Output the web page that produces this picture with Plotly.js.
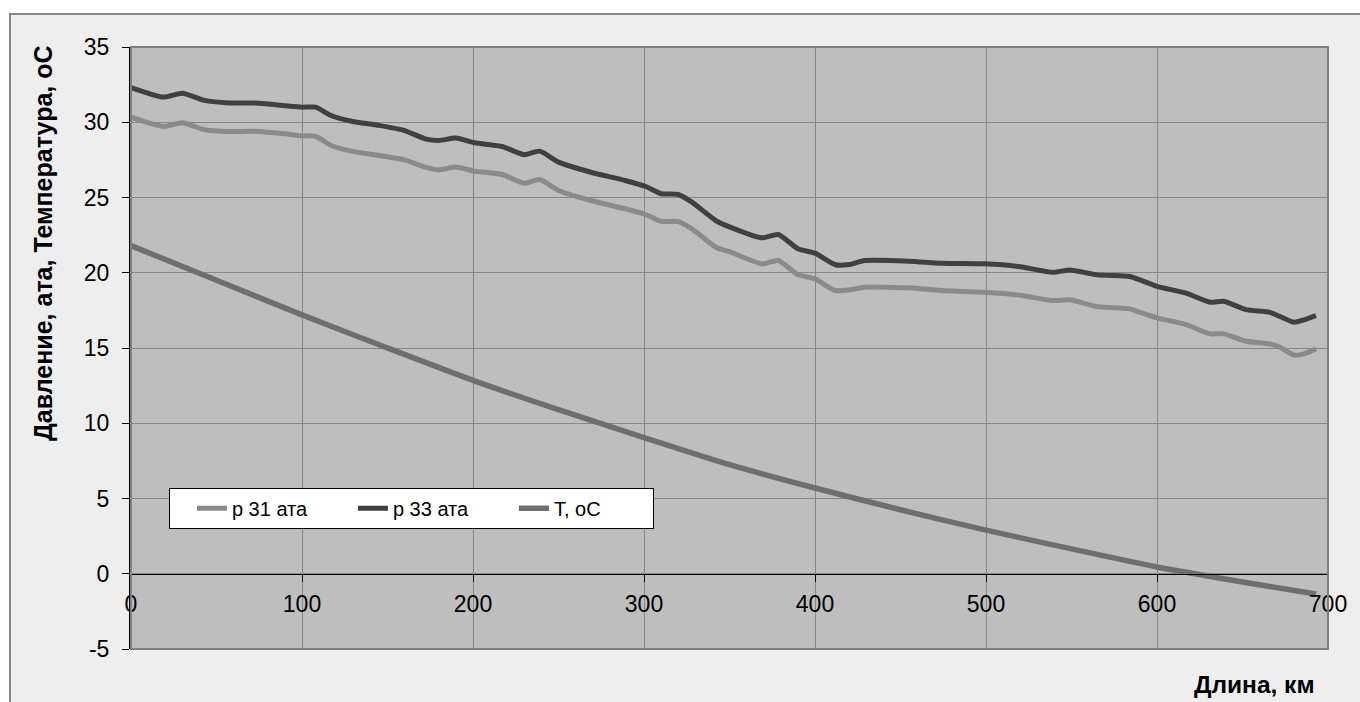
<!DOCTYPE html>
<html>
<head>
<meta charset="utf-8">
<script src="https://cdn.plot.ly/plotly-3.0.1.min.js"></script>
<style>html,body{margin:0;padding:0;background:#fff;}#chart{width:1360px;height:702px;}</style>
</head>
<body>
<div id="chart"></div>
<script>
// Pressure series, km along pipeline
const kmP = [0, 19, 30, 43, 55, 75, 90, 100, 108, 117, 129, 145, 160, 172, 180, 190, 201, 217, 230, 239, 250, 269, 289, 301, 310, 320, 328, 342, 350, 369, 378.5, 390, 400, 412, 420, 429, 455, 474, 499, 520, 539, 549, 565, 584, 590, 600, 617, 631, 639, 652, 666, 672, 680, 686, 693];
const p31 = [30.34, 29.72, 29.96, 29.5, 29.39, 29.39, 29.23, 29.1, 29.06, 28.46, 28.08, 27.79, 27.5, 27.02, 26.84, 27.02, 26.75, 26.53, 25.95, 26.2, 25.47, 24.8, 24.25, 23.87, 23.42, 23.4, 22.92, 21.7, 21.4, 20.59, 20.81, 19.88, 19.59, 18.82, 18.86, 19.04, 19.0, 18.82, 18.7, 18.5, 18.15, 18.2, 17.75, 17.6, 17.37, 17.0, 16.56, 15.94, 15.94, 15.45, 15.27, 15.05, 14.54, 14.61, 14.94];
const p33 = [32.3, 31.67, 31.93, 31.45, 31.3, 31.27, 31.1, 31.0, 31.0, 30.45, 30.07, 29.79, 29.45, 28.9, 28.79, 28.95, 28.64, 28.39, 27.84, 28.08, 27.35, 26.68, 26.13, 25.73, 25.25, 25.2, 24.69, 23.47, 23.05, 22.32, 22.54, 21.59, 21.3, 20.53, 20.55, 20.81, 20.77, 20.63, 20.59, 20.4, 20.03, 20.19, 19.86, 19.75, 19.53, 19.1, 18.64, 18.04, 18.1, 17.55, 17.37, 17.09, 16.71, 16.87, 17.15];
// Temperature series
const kmT = [0, 50, 100, 150, 200, 250, 300, 350, 400, 450, 500, 550, 600, 650, 693];
const tempC = [21.8, 19.5, 17.2, 15.0, 12.85, 10.9, 9.05, 7.25, 5.7, 4.25, 2.9, 1.65, 0.45, -0.55, -1.35];

const names = ['p 31 ата', 'p 33 ата', 'T, оС'];
const xTicks = [0, 100, 200, 300, 400, 500, 600, 700];
const yTicks = [-5, 0, 5, 10, 15, 20, 25, 30, 35];

const FONT = '"Liberation Sans", Arial, sans-serif';

const traces = [
  {x: kmP, y: p31, name: names[0], mode: 'lines', line: {color: '#8a8a8a', width: 5, shape: 'spline', smoothing: 0.6}},
  {x: kmP, y: p33, name: names[1], mode: 'lines', line: {color: '#404040', width: 5, shape: 'spline', smoothing: 0.6}},
  {x: kmT, y: tempC, name: names[2], mode: 'lines', line: {color: '#6e6e6e', width: 5.5, shape: 'spline', smoothing: 0.6}}
];

const layout = {
  width: 1360, height: 702,
  margin: {l: 131, r: 32, t: 47, b: 53, pad: 0},
  paper_bgcolor: '#ffffff',
  plot_bgcolor: '#bebebe',
  font: {family: FONT, color: '#000'},
  showlegend: true,
  legend: {
    orientation: 'h', x: 0.0317, y: 0.268, xanchor: 'left', yanchor: 'top',
    bgcolor: '#ffffff', bordercolor: '#000000', borderwidth: 1,
    font: {family: FONT, size: 20, color: '#000'},
    entrywidth: 94, entrywidthmode: 'pixels', traceorder: 'normal',
    indentation: 22
  },
  xaxis: {
    range: [0, 700], tickvals: xTicks, ticktext: xTicks.map(String),
    anchor: 'free', position: 0.125,
    showline: true, linecolor: '#000', linewidth: 1,
    ticks: 'outside', ticklen: 7, tickcolor: '#000', tickwidth: 1,
    ticklabelstandoff: 3,
    showgrid: true, gridcolor: '#878787', gridwidth: 1, zeroline: false,
    tickfont: {family: FONT, size: 23, color: '#000'}
  },
  yaxis: {
    range: [-5, 35], tickvals: yTicks, ticktext: yTicks.map(String),
    showline: true, linecolor: '#000', linewidth: 2,
    ticks: 'outside', ticklen: 7, tickcolor: '#000', tickwidth: 1,
    ticklabelstandoff: 8,
    showgrid: true, gridcolor: '#878787', gridwidth: 1, zeroline: false,
    tickfont: {family: FONT, size: 23, color: '#000'}
  },
  shapes: [
    {type: 'rect', xref: 'paper', yref: 'paper', layer: 'below',
     x0: (10 - 131) / 1197, x1: (1380 - 131) / 1197, y0: (649 - 720) / 602, y1: (649 - 14) / 602,
     fillcolor: '#eeeeee', line: {color: '#888888', width: 2}},
    {type: 'rect', xref: 'paper', yref: 'paper', layer: 'below',
     x0: 0, x1: 1, y0: 0, y1: 1, fillcolor: '#bebebe', line: {width: 0}},
    {type: 'rect', xref: 'paper', yref: 'paper', layer: 'above',
     x0: 0, x1: 1, y0: 0, y1: 1, line: {color: '#808080', width: 2}}
  ],
  annotations: [
    {text: '<b>Давление, ата, Температура, оС</b>', xref: 'paper', yref: 'paper',
     x: (43 - 131) / 1197, y: (649 - 243) / 602, xanchor: 'center', yanchor: 'middle',
     textangle: -90, showarrow: false, font: {family: FONT, size: 25, color: '#000'}},
    {text: '<b>Длина, км</b>', xref: 'paper', yref: 'paper',
     x: (1317 - 131) / 1197, y: (649 - 684) / 602, xanchor: 'right', yanchor: 'middle',
     showarrow: false, font: {family: FONT, size: 24.5, color: '#000'}}
  ]
};

Plotly.newPlot('chart', traces, layout, {displayModeBar: false, staticPlot: true});
</script>
</body>
</html>
